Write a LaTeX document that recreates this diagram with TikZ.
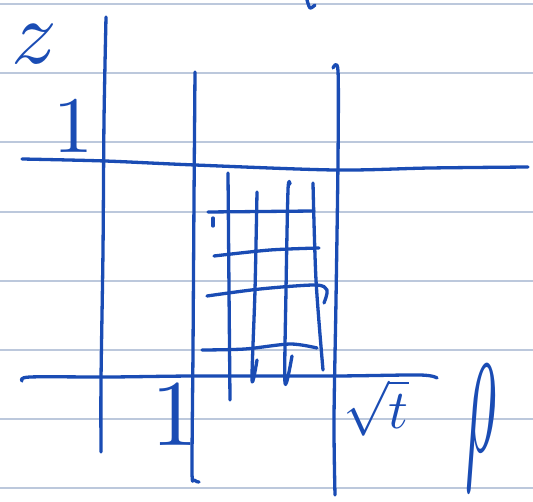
\documentclass[tikz,border=0pt]{standalone}
\usepackage{amsmath, amssymb}
\usetikzlibrary{positioning, calc}
\definecolor{Ink}{HTML}{1A4CB4}
\definecolor{Rule}{HTML}{BCC8DC}
\definecolor{Paper}{HTML}{FFFFFF}
\tikzset{
    pen/.style={draw=Ink, line width=3.3pt, line cap=round, line join=round},
    rule/.style={draw=Rule, line width=1.2pt},
    hand/.style={text=Ink, inner sep=0pt},
}

\begin{document}
\begin{tikzpicture}[x=1pt, y=-1pt]
    \fill[Paper] (0,0) rectangle (533,502);
    \useasboundingbox (0,0) rectangle (533,502);
    \foreach \y in {4,73,142,212,281,350,419,488}
        \draw[rule] (0,\y) -- (533,\y);
    % axes and the two cuts
    \draw[pen] plot[smooth] coordinates {(106,17) (104,120) (103,250) (101,380) (101,452)};
    \draw[pen] plot[smooth] coordinates {(195,72) (194,200) (193,350) (192,470) (194,480) (199,482)};
    \draw[pen] plot[smooth] coordinates {(333,68) (338,71) (338,160) (336,300) (334,420) (335,495)};
    \draw[pen] plot[smooth] coordinates {(22,159) (105,161) (195,165) (335,170) (430,168) (528,167)};
    \draw[pen] plot[smooth] coordinates {(22,381) (30,377) (110,377) (195,376) (335,376) (420,375) (437,378)};
    % grid
    \draw[pen] plot[smooth] coordinates {(228,173) (229,290) (230,400)};
    \draw[pen] plot[smooth] coordinates {(257,192) (255,290) (252,380) (257,360)};
    \draw[pen] plot[smooth] coordinates {(290,184) (288,190) (286,290) (285,383) (292,356)};
    \draw[pen] plot[smooth] coordinates {(313,183) (316,280) (323,370)};
    \draw[pen] (208,212) -- (314,211);
    \draw[pen] (213,218) -- (213,226);
    \draw[pen] plot[smooth] coordinates {(214,256) (270,250) (319,248)};
    \draw[pen] plot[smooth] coordinates {(207,296) (260,289) (315,285) (327,290) (324,303)};
    \draw[pen] plot[smooth] coordinates {(202,350) (245,349) (290,344) (317,348)};
    \draw[pen] plot[smooth] coordinates {(307,0) (310,8) (315,5)};
    % labels
    \node[hand] (zlabel) at (34,44) {\scalebox{9}{$z$}};
    \node[hand] (onez) at (73,127) {\scalebox{8}{$1$}};
    \node[hand] (onerho) at (175,415) {\scalebox{9.4}{$1$}};
    \node[hand] (sqrtt) at (376,408) {\scalebox{5.5}{$\sqrt{t}$}};
    \node[hand] (rholabel) at (481,428) {\scalebox{6}[20]{$\rho$}};
\end{tikzpicture}
\end{document}
